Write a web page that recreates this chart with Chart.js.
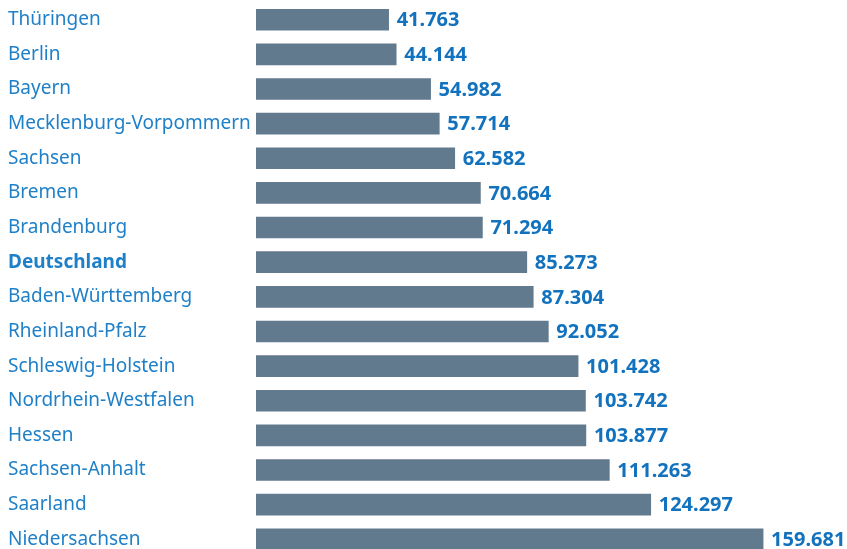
<!DOCTYPE html>
<html>
<head>
<meta charset="utf-8">
<script src="https://cdn.jsdelivr.net/npm/chart.js@4"></script>
<style>
  html, body { margin: 0; padding: 0; background: #fff; overflow: hidden; }
  #wrap { width: 847px; height: 577px; position: relative; margin-top: -9px; }
</style>
</head>
<body>
<div id="wrap"><canvas id="bars"></canvas></div>
<script>
var regions = ["Thüringen", "Berlin", "Bayern", "Mecklenburg-Vorpommern", "Sachsen", "Bremen", "Brandenburg", "Deutschland", "Baden-Württemberg", "Rheinland-Pfalz", "Schleswig-Holstein", "Nordrhein-Westfalen", "Hessen", "Sachsen-Anhalt", "Saarland", "Niedersachsen"];
var values = [41763, 44144, 54982, 57714, 62582, 70664, 71294, 85273, 87304, 92052, 101428, 103742, 103877, 111263, 124297, 159681];
var highlight = "Deutschland";

var labelBlue = '#1f80c8';
var valueBlue = '#1272be';
var barGray = '#627a8e';

function fmt(n) {
    return String(n).replace(/\B(?=(\d{3})+(?!\d))/g, '.');
}

// values written right of each bar
var valueLabels = {
    id: 'valueLabels',
    afterDatasetsDraw: function (chart) {
        var ctx = chart.ctx;
        var meta = chart.getDatasetMeta(0);
        ctx.save();
        ctx.font = 'bold 20px "Noto Sans"';
        ctx.fillStyle = valueBlue;
        ctx.textAlign = 'left';
        ctx.textBaseline = 'middle';
        meta.data.forEach(function (bar, i) {
            ctx.fillText(fmt(values[i]), bar.x + 8, bar.y + 1);
        });
        ctx.restore();
    }
};

var barsChart = new Chart(document.getElementById('bars'), {
    type: 'bar',
    data: {
        labels: regions,
        datasets: [
            {
                data: values,
                backgroundColor: barGray,
                borderWidth: 0,
                barThickness: 21
            }
        ]
    },
    options: {
        indexAxis: 'y',
        responsive: true,
        maintainAspectRatio: false,
        animation: false,
        layout: { padding: { left: 8, right: 0, top: 2, bottom: 1 } },
        plugins: {
            legend: { display: false },
            tooltip: { enabled: false }
        },
        scales: {
            x: {
                display: false,
                min: 0,
                max: 186100
            },
            y: {
                grid: { display: false, drawTicks: false },
                border: { display: false },
                afterFit: function (scale) { scale.width = 248; },
                ticks: {
                    crossAlign: 'far',
                    padding: 0,
                    color: labelBlue,
                    font: function (c) {
                        var bold = regions[c.index] === highlight;
                        return { family: '"Noto Sans"', size: 19, weight: bold ? 'bold' : 'normal' };
                    }
                }
            }
        }
    },
    plugins: [valueLabels]
});
</script>
</body>
</html>
